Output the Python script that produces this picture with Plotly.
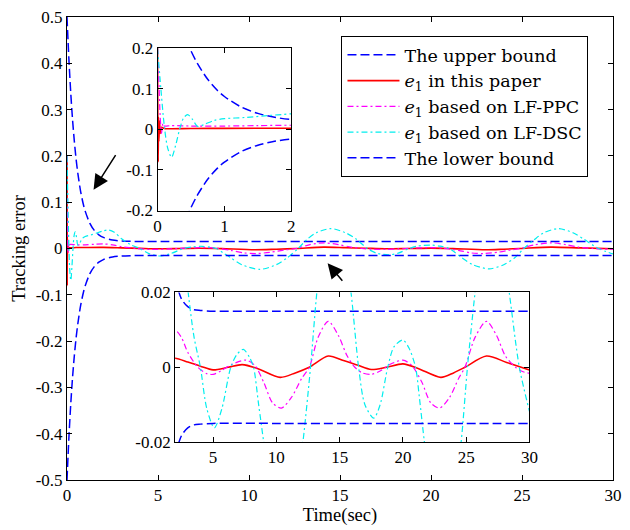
import plotly.graph_objects as go

# ---------------- data ----------------
t_bound = [0, 0.1, 0.2, 0.3, 0.4, 0.5, 0.6, 0.75, 0.9, 1.0, 1.25, 1.5, 1.75,
           2.0, 2.5, 3.0, 3.5, 4.0, 5.0, 10.0, 15.0, 20.0, 25.0, 30.0]
upper = [0.5, 0.412, 0.340, 0.281, 0.233, 0.193, 0.161, 0.123, 0.095, 0.0807,
         0.0548, 0.0391, 0.0296, 0.0239, 0.0183, 0.0162, 0.0154, 0.0152, 0.0150,
         0.015, 0.015, 0.015, 0.015, 0.015]
lower = [-0.5, -0.412, -0.340, -0.281, -0.233, -0.193, -0.161, -0.123, -0.095,
         -0.0807, -0.0548, -0.0391, -0.0296, -0.0239, -0.0183, -0.0162, -0.0154,
         -0.0152, -0.0150, -0.015, -0.015, -0.015, -0.015, -0.015]

t_red = [0, 0.005, 0.01, 0.015, 0.02, 0.03, 0.04, 0.06, 0.1, 0.5, 1.0, 2.0, 3.0,
         4.0, 5.0, 6.2, 7.3, 8.5, 10.3, 11.5, 12.6, 14.1, 15.3, 16.4, 17.5, 18.7,
         20.0, 21.2, 23.0, 24.0, 24.9, 26.6, 28.2, 30.0]
e_red = [0.2, 0.0, -0.08, 0.03, -0.03, 0.02, -0.01, 0.005, 0.002, 0.002, 0.0022,
         0.0024, 0.0014, 0.0003, -0.0007, 0.0, 0.0007, -0.0003, -0.0027, -0.0015,
         0.0, 0.003, 0.0018, 0.0006, -0.0006, 0.0, 0.0009, -0.0003, -0.0027,
         -0.0015, 0.0, 0.003, 0.0013, -0.0007]

t_ppc = [0, 0.02, 0.04, 0.06, 0.08, 0.1, 0.2, 0.5, 1.0, 1.5, 2.0, 2.5, 3.0, 3.8,
         4.5, 5.0, 5.6, 6.5, 7.6, 8.3, 9.0, 9.7, 10.4, 11.2, 12.0, 12.6, 13.3,
         14.1, 14.9, 15.6, 16.2, 16.8, 17.5, 18.2, 19.0, 20.0, 20.7, 21.5, 22.2,
         22.9, 23.7, 24.4, 24.9, 25.7, 26.6, 27.4, 28.1, 28.9, 29.5, 30.0]
e_ppc = [0.2, 0.12, 0.03, -0.01, 0.015, 0.008, 0.009, 0.008, 0.008, 0.009, 0.0099,
         0.008, 0.004, 0.0, -0.0017, -0.0019, -0.001, 0.0008, 0.0019, 0.0005,
         -0.004, -0.0095, -0.0109, -0.008, -0.003, 0.0, 0.008, 0.0123, 0.0085,
         0.003, 0.0, -0.0015, -0.0019, -0.001, 0.0008, 0.0019, 0.0005, -0.004,
         -0.0095, -0.0109, -0.008, -0.003, 0.0, 0.008, 0.0123, 0.0085, 0.003, 0.0,
         -0.0012, -0.0016]

t_dsc = [0, 0.05, 0.1, 0.15, 0.21, 0.27, 0.33, 0.39, 0.45, 0.52, 0.6, 0.7, 0.85,
         1.0, 1.3, 1.6, 2.0, 2.3, 2.6, 3.0, 3.5, 4.0, 4.5, 5.1, 5.7, 6.4, 6.9, 7.4,
         7.9, 8.2, 8.6, 9.0, 9.6, 10.6, 11.5, 12.1, 12.7, 13.2, 13.7, 14.5, 15.3,
         15.9, 16.5, 17.0, 17.7, 18.2, 18.8, 19.3, 20.0, 20.5, 21.0, 21.3, 21.7,
         22.3, 23.2, 24.0, 24.6, 25.1, 25.7, 26.2, 27.0, 27.8, 28.4, 29.2, 30.0]
e_dsc = [0.2, 0.1, 0.01, -0.045, -0.069, -0.04, 0.0, 0.028, 0.036, 0.025, 0.007,
         0.012, 0.022, 0.026, 0.029, 0.033, 0.038, 0.040, 0.035, 0.021, 0.008, 0.0,
         -0.011, -0.0162, -0.011, 0.0, 0.0035, 0.0048, 0.0025, 0.0, -0.01, -0.02,
         -0.035, -0.045, -0.035, -0.02, 0.0, 0.02, 0.034, 0.043, 0.034, 0.02, 0.0,
         -0.01, -0.0136, -0.01, 0.0, 0.0055, 0.0073, 0.005, 0.0, -0.008, -0.02,
         -0.035, -0.044, -0.035, -0.02, 0.0, 0.02, 0.034, 0.043, 0.034, 0.02, 0.0,
         -0.0118]

names = ["The upper bound", "<i>e</i><sub>1</sub> in this paper",
         "<i>e</i><sub>1</sub> based on LF-PPC", "<i>e</i><sub>1</sub> based on LF-DSC",
         "The lower bound"]

main_xticks = [0, 5, 10, 15, 20, 25, 30]
main_yticks = [-0.5, -0.4, -0.3, -0.2, -0.1, 0, 0.1, 0.2, 0.3, 0.4, 0.5]
main_ytext = ["-0.5", "-0.4", "-0.3", "-0.2", "-0.1", "0", "0.1", "0.2", "0.3", "0.4", "0.5"]
in1_xticks = [0, 1, 2]
in1_yticks = [-0.2, -0.1, 0, 0.1, 0.2]
in1_ytext = ["-0.2", "-0.1", "0", "0.1", "0.2"]
in2_xticks = [5, 10, 15, 20, 25, 30]
in2_yticks = [-0.02, 0, 0.02]
in2_ytext = ["-0.02", "0", "0.02"]

# ---------------- styles ----------------
series = [
    (t_bound, upper, dict(color="#0000ff", width=1.5, dash="9px,4px")),
    (t_red, e_red, dict(color="#ff0000", width=1.6, dash="solid")),
    (t_ppc, e_ppc, dict(color="#ff00ff", width=1.2, dash="6px,3px,2px,3px")),
    (t_dsc, e_dsc, dict(color="#00eeee", width=1.2, dash="6px,3px,2px,3px")),
    (t_bound, lower, dict(color="#0000ff", width=1.5, dash="9px,4px")),
]

fig = go.Figure()
for ax_i, (xa, ya) in enumerate([("x", "y"), ("x2", "y2"), ("x3", "y3")]):
    for k, (tx, vy, ln) in enumerate(series):
        fig.add_trace(go.Scatter(
            x=tx, y=vy, mode="lines", name=names[k],
            line=dict(shape="spline", smoothing=0.8, **ln),
            xaxis=xa, yaxis=ya, showlegend=(ax_i == 0), hoverinfo="skip"))

FONT = "Liberation Serif"
tickfont = dict(family=FONT, size=17, color="black")
axis_common = dict(showline=True, linecolor="black", linewidth=1, mirror="allticks",
                   ticks="inside", ticklen=5, tickcolor="black", showgrid=False,
                   zeroline=False, tickfont=tickfont)

fig.update_layout(
    width=630, height=530,
    margin=dict(l=67, r=8, t=16, b=50),
    paper_bgcolor="white", plot_bgcolor="white",
    font=dict(family=FONT, color="black"),
    xaxis=dict(domain=[0, 1], range=[0, 30], tickvals=main_xticks,
               title=dict(text="Time(sec)", font=dict(family=FONT, size=18.5), standoff=3),
               **axis_common),
    yaxis=dict(domain=[0, 1], range=[-0.5, 0.5], tickvals=main_yticks, ticktext=main_ytext,
               title=dict(text="Tracking error", font=dict(family=FONT, size=18.5), standoff=5),
               **axis_common),
    xaxis2=dict(domain=[0.1658, 0.4108], range=[0, 2], tickvals=in1_xticks, anchor="y2",
                **axis_common),
    yaxis2=dict(domain=[0.582, 0.933], range=[-0.2, 0.2], tickvals=in1_yticks,
                ticktext=in1_ytext, anchor="x2", **axis_common),
    xaxis3=dict(domain=[0.198, 0.847], range=[2, 30], tickvals=in2_xticks, anchor="y3",
                **axis_common),
    yaxis3=dict(domain=[0.0819, 0.405], range=[-0.02, 0.02], tickvals=in2_yticks,
                ticktext=in2_ytext, anchor="x3", **axis_common),
    legend=dict(x=0.5027, y=0.959, xanchor="left", yanchor="top",
                bgcolor="white", bordercolor="black", borderwidth=1,
                font=dict(family="DejaVu Serif", size=17.5, color="black"),
                tracegroupgap=0, itemwidth=52),
    showlegend=True,
)

fig.add_annotation(x=1.46, y=0.127, xref="x", yref="y", text="", showarrow=True,
                   ax=23, ay=-36, arrowhead=2, arrowsize=2, arrowwidth=1.5,
                   arrowcolor="black")
fig.add_annotation(x=14.32, y=-0.032, xref="x", yref="y", text="", showarrow=True,
                   ax=16, ay=19, arrowhead=2, arrowsize=2, arrowwidth=1.5,
                   arrowcolor="black")

fig.write_html("out.html")
